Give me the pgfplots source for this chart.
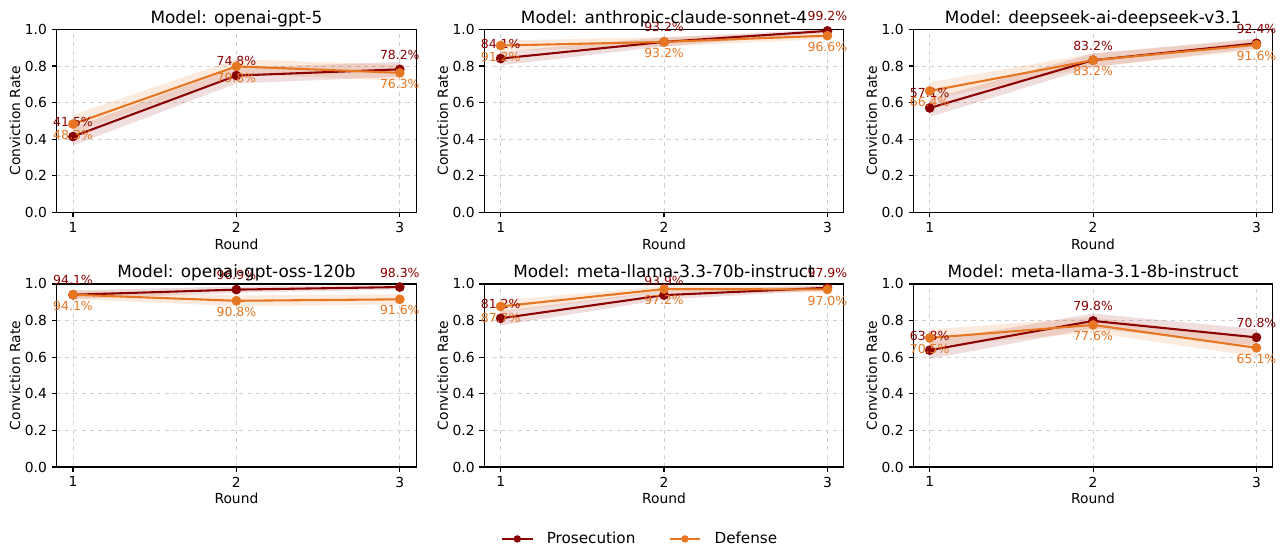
\documentclass[border=0pt]{standalone}
\usepackage{fontspec}
\setmainfont{DejaVu Sans}
\usepackage{pgfplots}
\pgfplotsset{compat=1.18}
\definecolor{pros}{RGB}{139,0,0}
\definecolor{defe}{RGB}{230,118,34}
\pgfplotsset{
 panel/.style={
  width=258.8bp, height=131.8bp, scale only axis, anchor=south west,
  xmin=0.9, xmax=3.1, ymin=0, ymax=1,
  xtick={1,2,3}, ytick={0,0.2,0.4,0.6,0.8,1.0},
  /pgf/number format/assume math mode=true,
  yticklabel style={/pgf/number format/.cd, fixed, fixed zerofill, precision=1},
  xticklabel style={/pgf/number format/.cd, fixed, precision=0},
  grid=major, grid style={dashed, black!18, line width=0.6bp},
  tick align=outside, major tick length=3.5bp,
  xtick pos=bottom, ytick pos=left,
  tick style={black, line width=0.8bp},
  axis line style={line width=0.8bp},
  ticklabel style={font=\fontsize{10}{12}\selectfont},
  every axis title shift=0pt,
  title style={at={(0.5,1)}, anchor=base, yshift=4.3bp, inner sep=0pt, font=\fontsize{12.2}{14}\selectfont},
  xlabel={Round}, ylabel={Conviction Rate},
  label style={font=\fontsize{10}{12}\selectfont},
  xlabel style={at={(axis description cs:0.5,-0.172)}, anchor=center, inner sep=0pt},
  ylabel style={at={(axis description cs:-0.116,0.5)}, anchor=center, rotate=0, inner sep=0pt},
  clip=false,
 },
 pline/.style={color=pros, line width=1.5bp, mark=*, mark size=2.7bp, mark options={solid},
  nodes near coords, point meta=explicit symbolic,
  every node near coord/.append style={anchor=center, yshift=10.5bp, inner sep=0pt, text=pros, font=\fontsize{9}{11}\selectfont}},
 dline/.style={color=defe, line width=1.5bp, mark=*, mark size=2.7bp, mark options={solid},
  nodes near coords, point meta=explicit symbolic,
  every node near coord/.append style={anchor=center, yshift=-8bp, inner sep=0pt, text=defe, font=\fontsize{9}{11}\selectfont}},
 pband/.style={fill=pros, fill opacity=0.13, draw=none, forget plot},
 dband/.style={fill=defe, fill opacity=0.15, draw=none, forget plot},
}
\begin{document}
\begin{tikzpicture}
\path (0,0) rectangle (922.3bp,396bp);
% Panel 1
\begin{axis}[panel, at={(40.8bp,243bp)}, title={Model: openai-gpt-5}]
\addplot[pband] coordinates {(1,0.464) (2,0.791) (3,0.823) (3,0.741) (2,0.705) (1,0.366)} --cycle;
\addplot[dband] coordinates {(1,0.533) (2,0.838) (3,0.806) (3,0.720) (2,0.758) (1,0.433)} --cycle;
\addplot[pline] coordinates {(1,0.415) [41.5\%] (2,0.748) [74.8\%] (3,0.782) [78.2\%]};
\addplot[dline] coordinates {(1,0.483) [48.3\%] (2,0.798) [79.8\%] (3,0.763) [76.3\%]};
\end{axis}
% Panel 2
\begin{axis}[panel, at={(348.7bp,243bp)}, title={Model: anthropic-claude-sonnet-4}]
\addplot[pband] coordinates {(1,0.878) (2,0.957) (3,1.0) (3,0.983) (2,0.907) (1,0.804)} --cycle;
\addplot[dband] coordinates {(1,0.940) (2,0.957) (3,0.984) (3,0.948) (2,0.907) (1,0.884)} --cycle;
\addplot[pline] coordinates {(1,0.841) [84.1\%] (2,0.932) [93.2\%] (3,0.992) [99.2\%]};
\addplot[dline] coordinates {(1,0.912) [91.2\%] (2,0.932) [93.2\%] (3,0.966) [96.6\%]};
\end{axis}
% Panel 3
\begin{axis}[panel, at={(657.6bp,243bp)}, title={Model: deepseek-ai-deepseek-v3.1}]
\addplot[pband] coordinates {(1,0.620) (2,0.869) (3,0.951) (3,0.897) (2,0.795) (1,0.522)} --cycle;
\addplot[dband] coordinates {(1,0.711) (2,0.869) (3,0.944) (3,0.888) (2,0.795) (1,0.617)} --cycle;
\addplot[pline] coordinates {(1,0.571) [57.1\%] (2,0.832) [83.2\%] (3,0.924) [92.4\%]};
\addplot[dline] coordinates {(1,0.664) [66.4\%] (2,0.832) [83.2\%] (3,0.916) [91.6\%]};
\end{axis}
% Panel 4
\begin{axis}[panel, at={(40.8bp,59.76bp)}, title={Model: openai-gpt-oss-120b}]
\addplot[pband] coordinates {(1,0.965) (2,0.986) (3,0.996) (3,0.970) (2,0.952) (1,0.917)} --cycle;
\addplot[dband] coordinates {(1,0.965) (2,0.937) (3,0.944) (3,0.888) (2,0.879) (1,0.917)} --cycle;
\addplot[pline] coordinates {(1,0.941) [94.1\%] (2,0.969) [96.9\%] (3,0.983) [98.3\%]};
\addplot[dline] coordinates {(1,0.941) [94.1\%] (2,0.908) [90.8\%] (3,0.916) [91.6\%]};
\end{axis}
% Panel 5
\begin{axis}[panel, at={(348.7bp,59.76bp)}, title={Model: meta-llama-3.3-70b-instruct},
  legend style={at={(0.4345,-0.393)}, anchor=center, draw=none, fill=none, legend columns=2,
   font=\fontsize{11}{13}\selectfont,
   /tikz/every even column/.append style={column sep=22bp},
   /tikz/every odd column/.append style={column sep=7.5bp}},
  legend image code/.code={\draw[#1] (0bp,0bp) -- (22bp,0bp); \path (11bp,0bp) node[#1, circle, fill, inner sep=0pt, minimum size=5.4bp] {};}]
\addplot[pband] coordinates {(1,0.851) (2,0.963) (3,0.993) (3,0.965) (2,0.915) (1,0.773)} --cycle;
\addplot[dband] coordinates {(1,0.910) (2,0.988) (3,0.987) (3,0.953) (2,0.956) (1,0.844)} --cycle;
\addplot[pline] coordinates {(1,0.812) [81.2\%] (2,0.939) [93.9\%] (3,0.979) [97.9\%]};
\addplot[dline] coordinates {(1,0.877) [87.7\%] (2,0.972) [97.2\%] (3,0.970) [97.0\%]};
\legend{Prosecution, Defense}
\end{axis}
% Panel 6
\begin{axis}[panel, at={(657.6bp,59.76bp)}, title={Model: meta-llama-3.1-8b-instruct}]
\addplot[pband] coordinates {(1,0.686) (2,0.838) (3,0.753) (3,0.663) (2,0.758) (1,0.590)} --cycle;
\addplot[dband] coordinates {(1,0.751) (2,0.818) (3,0.699) (3,0.603) (2,0.734) (1,0.659)} --cycle;
\addplot[pline] coordinates {(1,0.638) [63.8\%] (2,0.798) [79.8\%] (3,0.708) [70.8\%]};
\addplot[dline] coordinates {(1,0.705) [70.5\%] (2,0.776) [77.6\%] (3,0.651) [65.1\%]};
\end{axis}
\end{tikzpicture}
\end{document}
